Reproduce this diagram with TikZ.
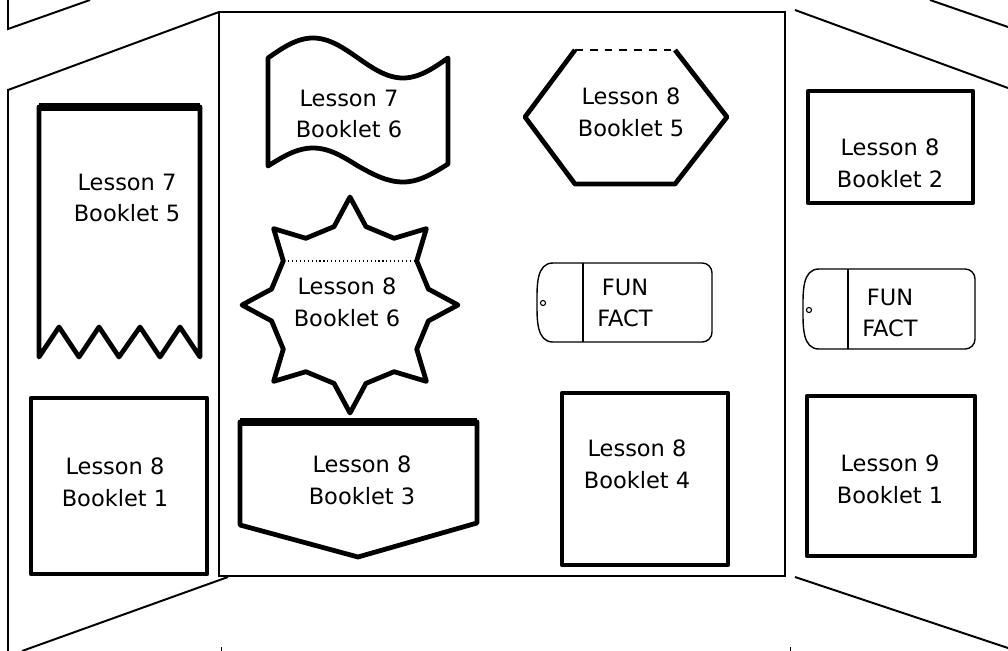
\documentclass[tikz,border=0pt]{standalone}
\usepackage{fontspec}
\setmainfont{DejaVu Sans}

\tikzset{
  board/.style={line width=1.4pt},
  cutout/.style={line width=3.4pt, line join=round},
  tagline/.style={line width=1pt},
  booklet/.style={font=\fontsize{16}{22.5}\selectfont, align=center, inner sep=0pt}
}

\begin{document}
\begin{tikzpicture}[x=0.025cm, y=-0.025cm]
  \useasboundingbox (0,0) rectangle (1008,651);
  % the display board
  \draw[board](8,0)--(8,29)--(90,0);
  \draw[board](219,12)--(8,90)--(8,651);
  \draw[board](22,651)--(228,577);
  \draw[board](930,0)--(1008,27);
  \draw[board](795,10)--(1008,88);
  \draw[board](795,577)--(1008,648);
  \draw[board](219,12) rectangle (785,576);
  \draw[line width=0.6pt](221,647)--(221,651);
  \draw[line width=0.6pt](790,647)--(790,651);

  % left wing
  \draw[cutout](39,107)--(39,357)--(59,327)--(79,357)--(99,327)--(119,357)
    --(140,327)--(160,357)--(180,327)--(200,357)--(200,107)--cycle;
  \draw[line width=5pt](39,107)--(200,107);
  \node[booklet] (l7b5) at (127,198) {Lesson 7\\Booklet 5};
  \draw[cutout](31,398) rectangle (207,574);
  \node[booklet] (l8b1) at (115,482) {Lesson 8\\Booklet 1};

  % middle panel
  \draw[cutout](268,58) sin (313,38) cos (358,58) sin (403,78) cos (448,58)
    --(448,164) sin (403,182) cos (358,166) sin (313,148) cos (268,166)--cycle;
  \node[booklet] (l7b6) at (349,114) {Lesson 7\\Booklet 6};

  \draw[cutout](575,50)--(525,117)--(575,184)--(675,184)--(727,117)--(675,50);
  \draw[line width=1.2pt, dash pattern=on 5.5pt off 5pt](575,50)--(675,50);
  \node[booklet] (l8b5) at (631,112) {Lesson 8\\Booklet 5};

  \draw[cutout](458,305)
    \foreach \a in {0,45,...,270}{
      --({350+80*cos(\a+11.5)},{305-80*sin(\a+11.5)})
      --({350+80*cos(\a+33.5)},{305-80*sin(\a+33.5)})
      --({350+108*cos(\a+45)},{305-108*sin(\a+45)})}
    --({350+80*cos(326.5)},{305-80*sin(326.5)})
    --({350+80*cos(348.5)},{305-80*sin(348.5)})--cycle;
  \draw[dotted, line width=0.8pt](284,261)--(416,261);
  \node[booklet] (l8b6) at (347,302) {Lesson 8\\Booklet 6};

  \draw[cutout](240,422)--(477,422)--(477,523)--(358,557)--(240,525)--cycle;
  \draw[line width=5pt](240,422)--(477,422);
  \node[booklet] (l8b3) at (362,480) {Lesson 8\\Booklet 3};

  \begin{scope}[shift={(537,263)}]
    \draw[tagline](16,79) to[out=180,in=-90] (0,40) to[out=90,in=180] (16,0)
      [rounded corners=7pt]--(175,0)--(175,79)--(16,79);
    \draw[tagline](46,0)--(46,79);
    \draw[line width=0.8pt](6,40) circle[radius=1.8pt];
  \end{scope}
  \node[booklet] (fun1) at (625,303) {FUN\\FACT};

  \draw[cutout](562,393) rectangle (728,565);
  \node[booklet] (l8b4) at (637,464) {Lesson 8\\Booklet 4};

  % right wing
  \draw[cutout](808,91) rectangle (973,203);
  \node[booklet] (l8b2) at (890,163) {Lesson 8\\Booklet 2};

  \begin{scope}[shift={(803,269)}]
    \draw[tagline](16,80) to[out=180,in=-90] (0,40) to[out=90,in=180] (16,0)
      [rounded corners=7pt]--(172,0)--(172,80)--(16,80);
    \draw[tagline](45,0)--(45,80);
    \draw[line width=0.8pt](6,41) circle[radius=1.8pt];
  \end{scope}
  \node[booklet] (fun2) at (890,313) {FUN\\FACT};

  \draw[cutout](807,396) rectangle (975,556);
  \node[booklet] (l9b1) at (890,479) {Lesson 9\\Booklet 1};
\end{tikzpicture}
\end{document}
